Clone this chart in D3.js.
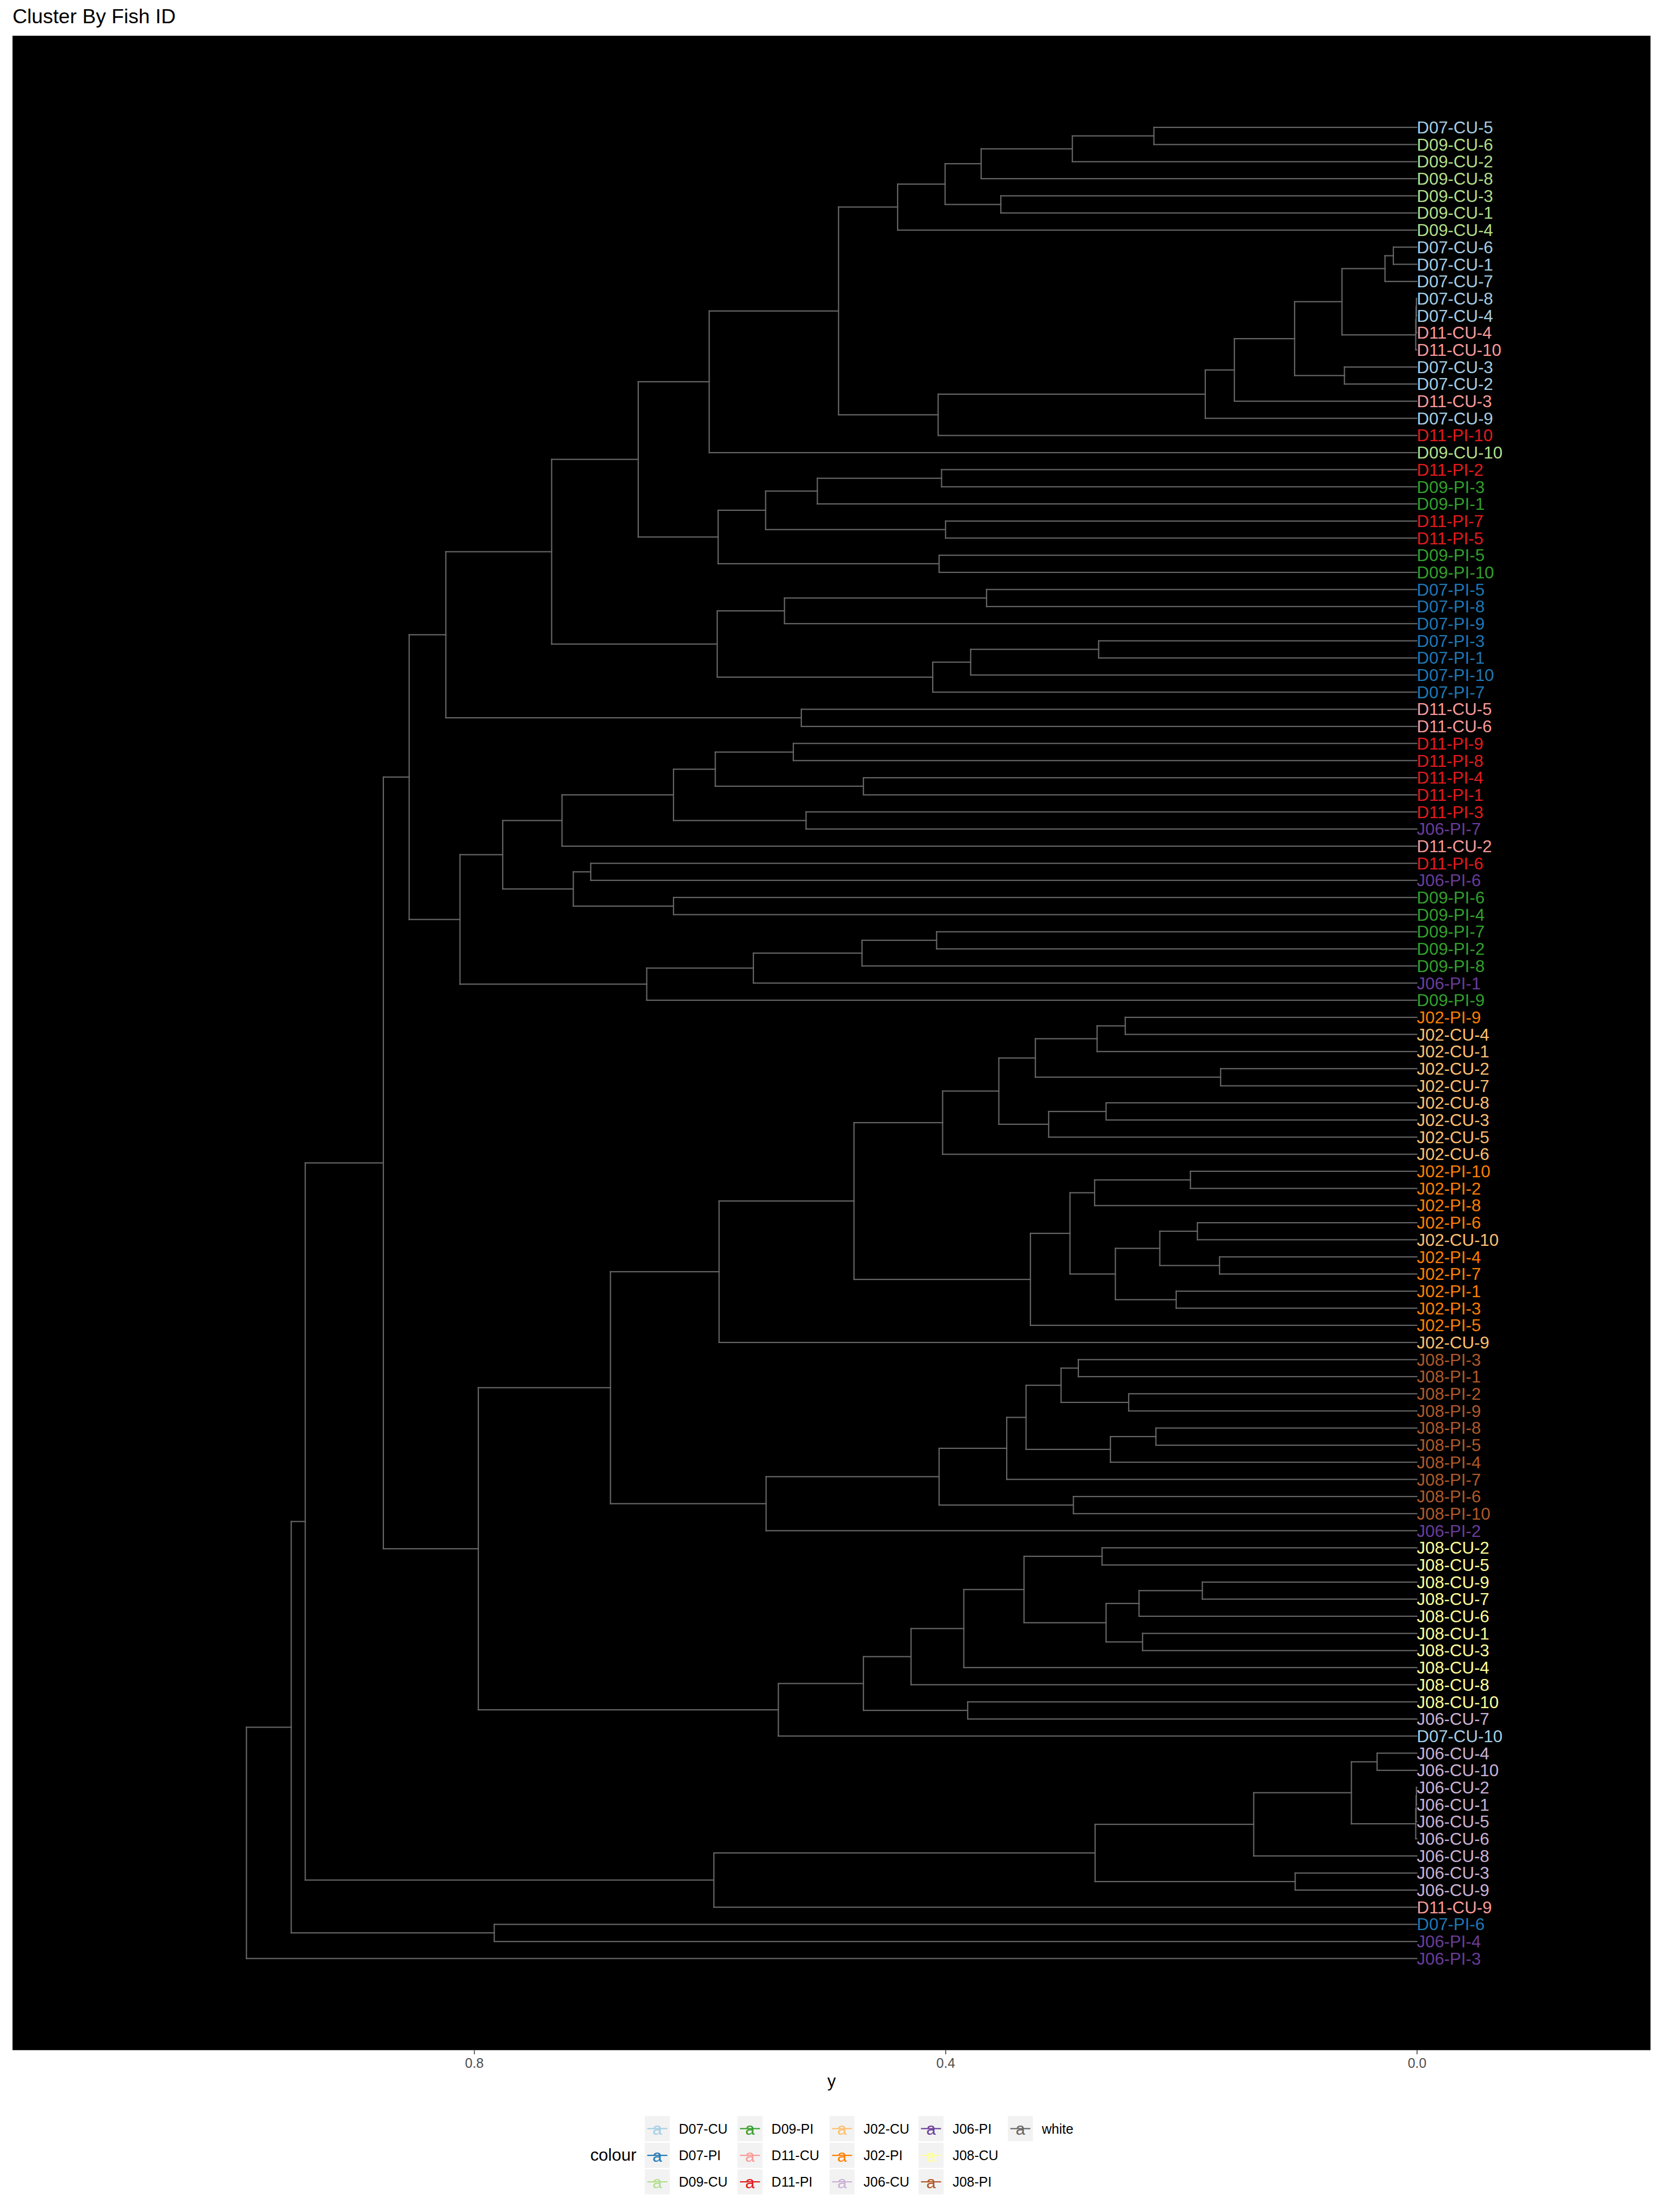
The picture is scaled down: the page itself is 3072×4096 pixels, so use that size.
<!DOCTYPE html>
<html><head><meta charset="utf-8">
<script src="https://cdn.jsdelivr.net/npm/d3@7"></script>
<style>html,body{margin:0;padding:0;background:#fff}</style>
</head><body>
<svg id="chart" width="3072" height="4096" xmlns="http://www.w3.org/2000/svg"></svg>
<script>
// ---------------- DATA ----------------
const chartTitle = "Cluster By Fish ID";
const axisTitle = "y";
const legendTitle = "colour";

// leaf labels in dendrogram order (top to bottom)
const leaves = [
"D07-CU-5","D09-CU-6","D09-CU-2","D09-CU-8","D09-CU-3","D09-CU-1","D09-CU-4",
"D07-CU-6","D07-CU-1","D07-CU-7","D07-CU-8","D07-CU-4","D11-CU-4","D11-CU-10",
"D07-CU-3","D07-CU-2","D11-CU-3","D07-CU-9","D11-PI-10","D09-CU-10",
"D11-PI-2","D09-PI-3","D09-PI-1","D11-PI-7","D11-PI-5","D09-PI-5","D09-PI-10",
"D07-PI-5","D07-PI-8","D07-PI-9","D07-PI-3","D07-PI-1","D07-PI-10","D07-PI-7",
"D11-CU-5","D11-CU-6","D11-PI-9","D11-PI-8","D11-PI-4","D11-PI-1","D11-PI-3",
"J06-PI-7","D11-CU-2","D11-PI-6","J06-PI-6","D09-PI-6","D09-PI-4","D09-PI-7",
"D09-PI-2","D09-PI-8","J06-PI-1","D09-PI-9",
"J02-PI-9","J02-CU-4","J02-CU-1","J02-CU-2","J02-CU-7","J02-CU-8","J02-CU-3",
"J02-CU-5","J02-CU-6","J02-PI-10","J02-PI-2","J02-PI-8","J02-PI-6","J02-CU-10",
"J02-PI-4","J02-PI-7","J02-PI-1","J02-PI-3","J02-PI-5","J02-CU-9",
"J08-PI-3","J08-PI-1","J08-PI-2","J08-PI-9","J08-PI-8","J08-PI-5","J08-PI-4",
"J08-PI-7","J08-PI-6","J08-PI-10","J06-PI-2",
"J08-CU-2","J08-CU-5","J08-CU-9","J08-CU-7","J08-CU-6","J08-CU-1","J08-CU-3",
"J08-CU-4","J08-CU-8","J08-CU-10","J06-CU-7","D07-CU-10",
"J06-CU-4","J06-CU-10","J06-CU-2","J06-CU-1","J06-CU-5","J06-CU-6","J06-CU-8",
"J06-CU-3","J06-CU-9","D11-CU-9","D07-PI-6","J06-PI-4","J06-PI-3"
];

// colour groups (legend order) and their colours
const groups = ["D07-CU","D07-PI","D09-CU","D09-PI","D11-CU","D11-PI",
                "J02-CU","J02-PI","J06-CU","J06-PI","J08-CU","J08-PI","white"];
const groupColors = ["#A6CEE3","#1F78B4","#B2DF8A","#33A02C","#FB9A99","#E31A1C",
                     "#FDBF6F","#FF7F00","#CAB2D6","#6A3D9A","#FFFF99","#B15928","#666666"];
const segmentGroup = "white";

// merges: [child A, child B, height]; string = leaf label, number = index of earlier merge
const merges = [
["D07-CU-5","D09-CU-6",0.2231],[0,"D09-CU-2",0.2923],[1,"D09-CU-8",0.3697],
["D09-CU-3","D09-CU-1",0.3530],[2,3,0.4003],[4,"D09-CU-4",0.4406],
["D07-CU-6","D07-CU-1",0.0199],[6,"D07-CU-7",0.0270],
["D07-CU-8","D07-CU-4",0.0003],[8,"D11-CU-4",0.0006],[9,"D11-CU-10",0.0009],
[7,10,0.0635],["D07-CU-3","D07-CU-2",0.0614],[11,12,0.1037],
[13,"D11-CU-3",0.1548],[14,"D07-CU-9",0.1795],[15,"D11-PI-10",0.4062],
[5,16,0.4907],[17,"D09-CU-10",0.6005],
["D11-PI-2","D09-PI-3",0.4033],[19,"D09-PI-1",0.5087],
["D11-PI-7","D11-PI-5",0.3999],[20,21,0.5526],
["D09-PI-5","D09-PI-10",0.4054],[22,23,0.5929],[18,24,0.6607],
["D07-PI-5","D07-PI-8",0.3651],[26,"D07-PI-9",0.5366],
["D07-PI-3","D07-PI-1",0.2700],[28,"D07-PI-10",0.3786],[29,"D07-PI-7",0.4108],
[27,30,0.5937],[25,31,0.7342],
["D11-CU-5","D11-CU-6",0.5223],[32,33,0.8240],
["D11-PI-9","D11-PI-8",0.5291],["D11-PI-4","D11-PI-1",0.4696],[35,36,0.5953],
["D11-PI-3","J06-PI-7",0.5183],[37,38,0.6308],[39,"D11-CU-2",0.7254],
["D11-PI-6","J06-PI-6",0.7010],["D09-PI-6","D09-PI-4",0.6308],[41,42,0.7158],
[40,43,0.7757],
["D09-PI-7","D09-PI-2",0.4075],[45,"D09-PI-8",0.4708],[46,"J06-PI-1",0.5630],
[47,"D09-PI-9",0.6535],[44,48,0.8120],[34,49,0.8551],
["J02-PI-9","J02-CU-4",0.2474],[51,"J02-CU-1",0.2713],["J02-CU-2","J02-CU-7",0.1665],
[52,53,0.3237],["J02-CU-8","J02-CU-3",0.2637],[55,"J02-CU-5",0.3124],[54,56,0.3547],
[57,"J02-CU-6",0.4024],
["J02-PI-10","J02-PI-2",0.1921],[59,"J02-PI-8",0.2734],["J02-PI-6","J02-CU-10",0.1862],
["J02-PI-4","J02-PI-7",0.1674],[61,62,0.2181],["J02-PI-1","J02-PI-3",0.2042],
[63,64,0.2558],[60,65,0.2943],[66,"J02-PI-5",0.3279],[58,67,0.4776],
[68,"J02-CU-9",0.5921],
["J08-PI-3","J08-PI-1",0.2872],["J08-PI-2","J08-PI-9",0.2445],[70,71,0.3019],
["J08-PI-8","J08-PI-5",0.2214],[73,"J08-PI-4",0.2600],[72,74,0.3316],
[75,"J08-PI-7",0.3480],["J08-PI-6","J08-PI-10",0.2914],[76,77,0.4054],
[78,"J06-PI-2",0.5522],[69,79,0.6843],
["J08-CU-2","J08-CU-5",0.2671],["J08-CU-9","J08-CU-7",0.1820],[82,"J08-CU-6",0.2357],
["J08-CU-1","J08-CU-3",0.2327],[83,84,0.2637],[81,85,0.3333],[86,"J08-CU-4",0.3844],
[87,"J08-CU-8",0.4292],["J08-CU-10","J06-CU-7",0.3811],[88,89,0.4696],
[90,"D07-CU-10",0.5418],[80,91,0.7964],[50,92,0.8770],
["J06-CU-4","J06-CU-10",0.0337],["J06-CU-2","J06-CU-1",0.0003],[95,"J06-CU-5",0.0006],
[96,"J06-CU-6",0.0009],[94,97,0.0555],[98,"J06-CU-8",0.1384],
["J06-CU-3","J06-CU-9",0.1032],[99,100,0.2730],[101,"D11-CU-9",0.5965],
[93,102,0.9433],["D07-PI-6","J06-PI-4",0.7829],[103,104,0.9552],[105,"J06-PI-3",0.9932]
];

const xTicks = [0.8, 0.4, 0.0];
const xTickLabels = ["0.8","0.4","0.0"];

// ---------------- LAYOUT ----------------
const FONT = "'Liberation Sans', Arial, Helvetica, sans-serif";
const panel = {left: 23.2, top: 66.2, right: 3056.3, bottom: 3796.3};
const colorOf = d3.scaleOrdinal().domain(groups).range(groupColors);
const groupOf = lbl => lbl.replace(/-\d+$/, "");

const x = d3.scaleLinear().domain([0, 0.8]).range([2623.5, 877.9]);
const y = d3.scaleLinear().domain([1, leaves.length]).range([235.9, 3626.7]);

const svg = d3.select("#chart");
svg.append("rect").attr("x",0).attr("y",0).attr("width",3072).attr("height",4096).attr("fill","#fff");

// title
svg.append("text").attr("x", panel.left).attr("y", 43.2)
  .attr("font-family", FONT).attr("font-size", 37.5).attr("fill","#000")
  .text(chartTitle);

// panel background
svg.append("rect").attr("x", panel.left).attr("y", panel.top)
  .attr("width", panel.right - panel.left).attr("height", panel.bottom - panel.top)
  .attr("fill", "#000");

// compute nodes
const leafPos = new Map(leaves.map((l,i)=>[l, i+1]));
const nodes = [];
const posOf = ref => typeof ref === "string" ? {h:0, y:leafPos.get(ref)} : nodes[ref];
merges.forEach(([a,b,h]) => {
  const pa = posOf(a), pb = posOf(b);
  nodes.push({h, y:(pa.y+pb.y)/2, a:pa, b:pb});
});

// segments
const segs = [];
nodes.forEach(n => {
  segs.push([n.h, n.a.y, n.h, n.b.y]);
  segs.push([n.h, n.a.y, n.a.h, n.a.y]);
  segs.push([n.h, n.b.y, n.b.h, n.b.y]);
});
svg.append("g").selectAll("line").data(segs).join("line")
  .attr("x1", d=>x(d[0])).attr("y1", d=>y(d[1]))
  .attr("x2", d=>x(d[2])).attr("y2", d=>y(d[3]))
  .attr("stroke", colorOf(segmentGroup)).attr("stroke-width", 2.25)
  .attr("stroke-linecap","square");

// leaf labels
svg.append("g").selectAll("text").data(leaves).join("text")
  .attr("x", x(0)).attr("y", (d,i)=>y(i+1)).attr("dy","0.355em")
  .attr("font-family", FONT).attr("font-size", 31.4)
  .attr("fill", d=>colorOf(groupOf(d)))
  .text(d=>d);

// x axis
const axis = d3.axisBottom(x).tickValues(xTicks)
  .tickFormat((d,i)=>xTickLabels[i]).tickSize(7.8).tickPadding(7.1);
const gAxis = svg.append("g").attr("transform", `translate(0,${panel.bottom})`).call(axis);
gAxis.select(".domain").remove();
gAxis.selectAll(".tick line").attr("stroke","#333333").attr("stroke-width",1.5);
gAxis.selectAll(".tick text").attr("fill","#4D4D4D").attr("font-family",FONT).attr("font-size",25);

svg.append("text").attr("x", (panel.left+panel.right)/2).attr("y", 3864.4)
  .attr("text-anchor","middle").attr("font-family",FONT).attr("font-size",31.4)
  .attr("fill","#000").text(axisTitle);

// legend
const legCols = [1193.9, 1365.5, 1536.0, 1700.8, 1866.2];
const legRows = [3918.5, 3967.9, 4017.0];
const keySize = 46.4;
svg.append("text").attr("x", 1092.9).attr("y", 4001)
  .attr("font-family",FONT).attr("font-size",31.4).attr("fill","#000").text(legendTitle);
const gLeg = svg.append("g");
groups.forEach((g, i) => {
  const cx = legCols[Math.floor(i/3)], cy = legRows[i%3];
  const k = gLeg.append("g");
  k.append("rect").attr("x",cx).attr("y",cy).attr("width",keySize).attr("height",keySize)
    .attr("fill","#F2F2F2");
  k.append("line").attr("x1",cx+keySize*0.1).attr("x2",cx+keySize*0.9)
    .attr("y1",cy+keySize/2).attr("y2",cy+keySize/2)
    .attr("stroke",colorOf(g)).attr("stroke-width",2.25);
  k.append("text").attr("x",cx+keySize/2).attr("y",cy+keySize/2+11.7)
    .attr("text-anchor","middle").attr("font-family",FONT).attr("font-size",31.4)
    .attr("fill",colorOf(g)).text("a");
  k.append("text").attr("x",cx+63.1).attr("y",cy+keySize/2+9)
    .attr("font-family",FONT).attr("font-size",25).attr("fill","#000").text(g);
});
</script>
</body></html>
